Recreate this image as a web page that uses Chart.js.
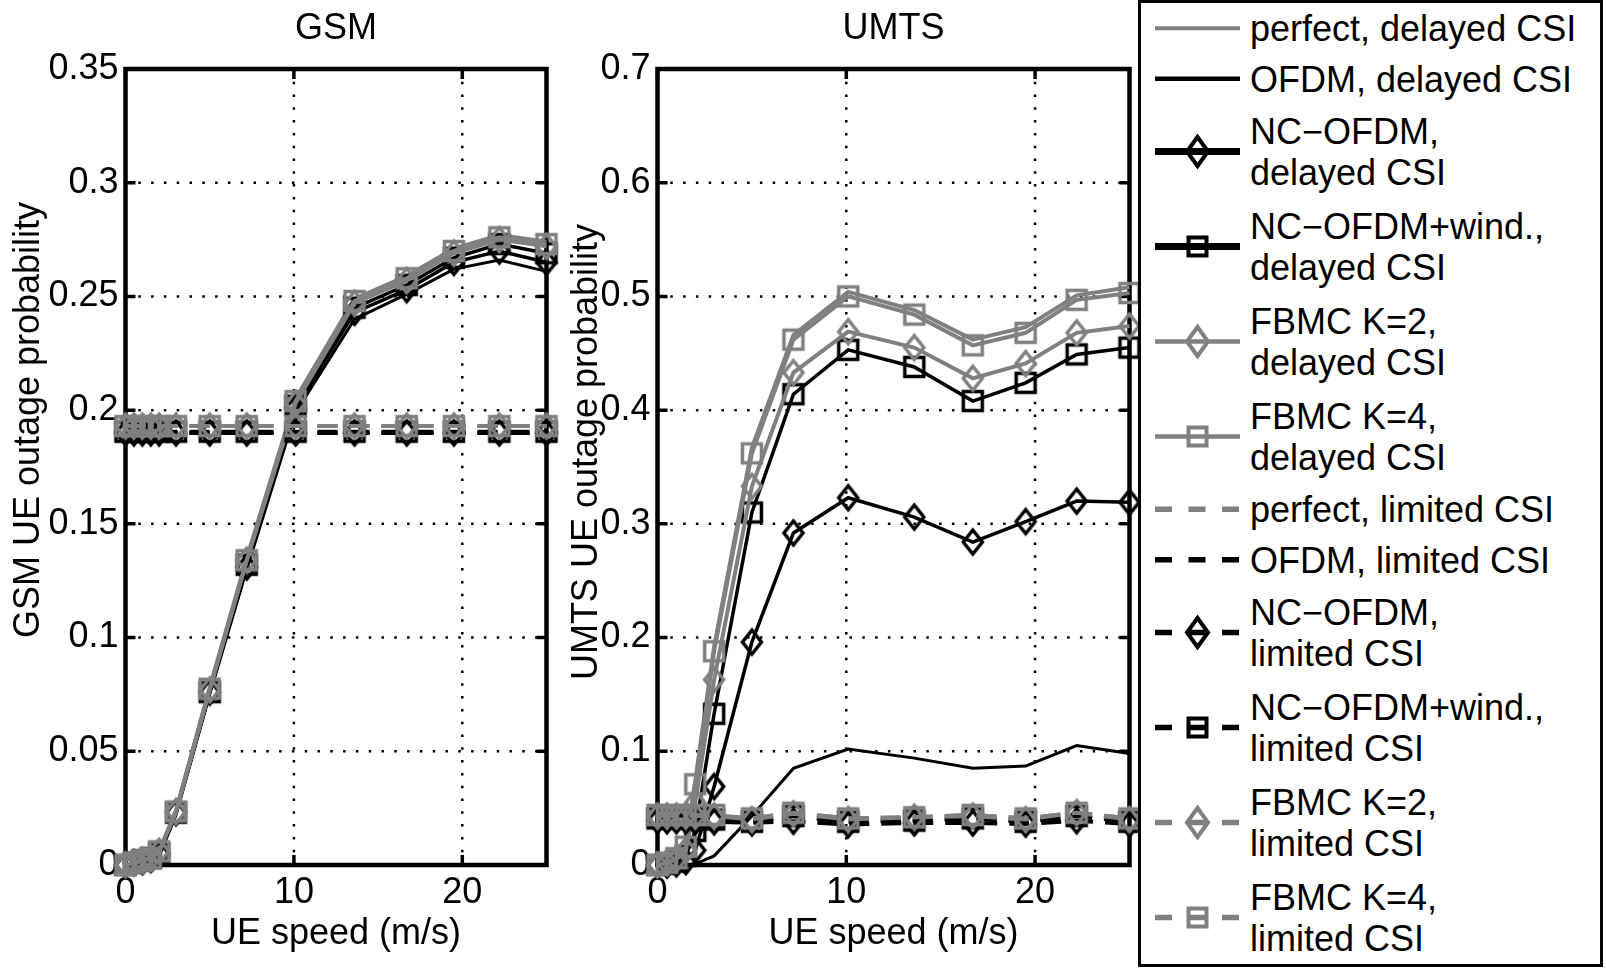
<!DOCTYPE html>
<html>
<head>
<meta charset="utf-8">
<title>GSM / UMTS UE outage probability</title>
<script src="https://cdn.jsdelivr.net/npm/chart.js@4.4.0/dist/chart.umd.min.js"></script>
<style>
  html, body { margin: 0; padding: 0; background: #fff; }
  #page { position: relative; width: 1606px; height: 969px; overflow: hidden; }
  canvas { position: absolute; top: 0; }
  #gsmChart { left: 0; }
  #umtsChart { left: 560px; }
  #overlay { position: absolute; left: 0; top: 0; font-family: "Liberation Sans", Arial, sans-serif; font-size: 36px; }
</style>
</head>
<body>
<div id="page">
  <canvas id="gsmChart" width="570" height="969"></canvas>
  <canvas id="umtsChart" width="600" height="969"></canvas>
  <svg id="overlay" width="1606" height="969" xmlns="http://www.w3.org/2000/svg">
    <text x="336" y="39" text-anchor="middle">GSM</text>
    <text x="893.5" y="39" text-anchor="middle">UMTS</text>
    <text transform="translate(38.5,420) rotate(-90)" text-anchor="middle">GSM UE outage probability</text>
    <text transform="translate(597,452) rotate(-90)" text-anchor="middle">UMTS UE outage probability</text>
    <g id="legend"></g>
  </svg>
</div>

<script>
/* data: UE speed (m/s) and outage probability per scheme */
const speeds = [0, 0.5, 1, 1.5, 2, 3, 5, 7.2, 10.1, 13.6, 16.7, 19.5, 22.2, 25];
const xTickValues = [0, 10, 20];
const gsmYTicks = [0, 0.05, 0.1, 0.15, 0.2, 0.25, 0.3, 0.35];
const umtsYTicks = [0, 0.1, 0.2, 0.3, 0.4, 0.5, 0.6, 0.7];

const legendLines = [
  ['perfect, delayed CSI'],
  ['OFDM, delayed CSI'],
  ['NC\u2212OFDM,', 'delayed CSI'],
  ['NC\u2212OFDM+wind.,', 'delayed CSI'],
  ['FBMC K=2,', 'delayed CSI'],
  ['FBMC K=4,', 'delayed CSI'],
  ['perfect, limited CSI'],
  ['OFDM, limited CSI'],
  ['NC\u2212OFDM,', 'limited CSI'],
  ['NC\u2212OFDM+wind.,', 'limited CSI'],
  ['FBMC K=2,', 'limited CSI'],
  ['FBMC K=4,', 'limited CSI']
];
const seriesNames = legendLines.map(l => l.join(' '));

// GSM
const gsmPerfectDelayed  = [0, 0.001, 0.002, 0.003, 0.006, 0.024, 0.078, 0.135, 0.205, 0.249, 0.259, 0.271, 0.277, 0.274];
const gsmOfdmDelayed     = [0, 0.0005, 0.001, 0.002, 0.004, 0.022, 0.075, 0.130, 0.199, 0.240, 0.251, 0.262, 0.266, 0.261];
const gsmNcDelayed       = [0, 0.001, 0.0015, 0.0025, 0.005, 0.023, 0.076, 0.131, 0.201, 0.243, 0.253, 0.265, 0.270, 0.265];
const gsmNcWindDelayed   = [0, 0.001, 0.002, 0.003, 0.005, 0.023, 0.076, 0.132, 0.202, 0.245, 0.255, 0.267, 0.273, 0.269];
const gsmFbmc2Delayed    = [0, 0.001, 0.002, 0.003, 0.006, 0.0235, 0.077, 0.134, 0.203, 0.247, 0.257, 0.269, 0.275, 0.272];
const gsmFbmc4Delayed    = [0, 0.001, 0.002, 0.003, 0.006, 0.0235, 0.0775, 0.134, 0.204, 0.248, 0.258, 0.270, 0.276, 0.273];
const gsmPerfectLimited  = [0.193, 0.193, 0.193, 0.193, 0.193, 0.193, 0.193, 0.193, 0.193, 0.193, 0.193, 0.193, 0.193, 0.193];
const gsmOfdmLimited     = [0.190, 0.190, 0.190, 0.190, 0.190, 0.190, 0.190, 0.190, 0.190, 0.190, 0.190, 0.190, 0.190, 0.190];
const gsmNcLimited       = [0.190, 0.190, 0.190, 0.190, 0.190, 0.190, 0.190, 0.190, 0.190, 0.190, 0.190, 0.190, 0.190, 0.190];
const gsmNcWindLimited   = [0.1905, 0.1905, 0.1905, 0.1905, 0.1905, 0.1905, 0.1905, 0.1905, 0.1905, 0.1905, 0.1905, 0.1905, 0.1905, 0.1905];
const gsmFbmc2Limited    = [0.193, 0.193, 0.193, 0.193, 0.193, 0.193, 0.193, 0.193, 0.193, 0.193, 0.193, 0.193, 0.193, 0.193];
const gsmFbmc4Limited    = [0.193, 0.193, 0.193, 0.193, 0.193, 0.193, 0.193, 0.193, 0.193, 0.193, 0.193, 0.193, 0.193, 0.193];

// UMTS
const umtsPerfectDelayed = [0, 0.002, 0.006, 0.017, 0.074, 0.192, 0.367, 0.466, 0.504, 0.488, 0.462, 0.473, 0.501, 0.508];
const umtsOfdmDelayed    = [0, 0, 0, 0, 0.001, 0.008, 0.043, 0.085, 0.102, 0.094, 0.085, 0.087, 0.105, 0.098];
const umtsNcDelayed      = [0, 0, 0.001, 0.003, 0.013, 0.069, 0.196, 0.292, 0.323, 0.306, 0.284, 0.302, 0.320, 0.319];
const umtsNcWindDelayed  = [0, 0.001, 0.003, 0.008, 0.030, 0.133, 0.310, 0.414, 0.453, 0.438, 0.408, 0.424, 0.449, 0.455];
const umtsFbmc2Delayed   = [0, 0.002, 0.005, 0.013, 0.055, 0.163, 0.333, 0.433, 0.469, 0.455, 0.428, 0.441, 0.468, 0.474];
const umtsFbmc4Delayed   = [0, 0.002, 0.006, 0.016, 0.071, 0.188, 0.362, 0.462, 0.500, 0.484, 0.457, 0.468, 0.497, 0.503];
const umtsPerfectLimited = [0.043, 0.043, 0.043, 0.043, 0.043, 0.043, 0.041, 0.046, 0.041, 0.042, 0.044, 0.041, 0.046, 0.041];
const umtsOfdmLimited    = [0.041, 0.041, 0.041, 0.041, 0.041, 0.040, 0.038, 0.043, 0.038, 0.039, 0.041, 0.038, 0.043, 0.038];
const umtsNcLimited      = [0.039, 0.039, 0.039, 0.039, 0.038, 0.038, 0.037, 0.0385, 0.0355, 0.037, 0.037, 0.036, 0.039, 0.036];
const umtsNcWindLimited  = [0.041, 0.041, 0.041, 0.041, 0.041, 0.040, 0.038, 0.043, 0.038, 0.039, 0.041, 0.038, 0.043, 0.038];
const umtsFbmc2Limited   = [0.043, 0.043, 0.043, 0.043, 0.043, 0.043, 0.040, 0.045, 0.040, 0.042, 0.043, 0.040, 0.046, 0.040];
const umtsFbmc4Limited   = [0.044, 0.044, 0.044, 0.044, 0.044, 0.044, 0.041, 0.046, 0.041, 0.042, 0.044, 0.041, 0.046, 0.041];

const gsmSeries = [gsmPerfectDelayed, gsmOfdmDelayed, gsmNcDelayed, gsmNcWindDelayed, gsmFbmc2Delayed, gsmFbmc4Delayed,
  gsmPerfectLimited, gsmOfdmLimited, gsmNcLimited, gsmNcWindLimited, gsmFbmc2Limited, gsmFbmc4Limited];
const umtsSeries = [umtsPerfectDelayed, umtsOfdmDelayed, umtsNcDelayed, umtsNcWindDelayed, umtsFbmc2Delayed, umtsFbmc4Delayed,
  umtsPerfectLimited, umtsOfdmLimited, umtsNcLimited, umtsNcWindLimited, umtsFbmc2Limited, umtsFbmc4Limited];

/* styles (matlab-like: gray / black, solid / dashed, open markers) */
const GRAY = '#808080';
const BLACK = '#000000';
const DASH = [20, 12];
const seriesStyles = [
  { color: GRAY,  dash: [],   marker: null,      width: 4,   legendWidth: 4 },
  { color: BLACK, dash: [],   marker: null,      width: 3,   legendWidth: 4.5 },
  { color: BLACK, dash: [],   marker: 'diamond', width: 3.5, legendWidth: 7 },
  { color: BLACK, dash: [],   marker: 'square',  width: 3.5, legendWidth: 7 },
  { color: GRAY,  dash: [],   marker: 'diamond', width: 4,   legendWidth: 4.5 },
  { color: GRAY,  dash: [],   marker: 'square',  width: 4,   legendWidth: 4.5 },
  { color: GRAY,  dash: DASH, marker: null,      width: 4,   legendWidth: 5.5 },
  { color: BLACK, dash: DASH, marker: null,      width: 4,   legendWidth: 5.5 },
  { color: BLACK, dash: DASH, marker: 'diamond', width: 4,   legendWidth: 5.5 },
  { color: BLACK, dash: DASH, marker: 'square',  width: 4,   legendWidth: 5.5 },
  { color: GRAY,  dash: DASH, marker: 'diamond', width: 4,   legendWidth: 5.5 },
  { color: GRAY,  dash: DASH, marker: 'square',  width: 4,   legendWidth: 5.5 }
];

Chart.defaults.font.family = '"Liberation Sans", Arial, sans-serif';
Chart.defaults.font.size = 36;
Chart.defaults.color = '#000';

// open marker bitmaps used as point styles
function markerImage(shape, color) {
  const c = document.createElement('canvas');
  c.width = 28; c.height = 32;
  const g = c.getContext('2d');
  g.strokeStyle = color;
  g.lineWidth = 3.5;
  g.beginPath();
  if (shape === 'diamond') {
    g.moveTo(14, 4); g.lineTo(23.5, 16); g.lineTo(14, 28); g.lineTo(4.5, 16); g.closePath();
  } else {
    g.rect(4.5, 6.5, 19, 19);
  }
  g.stroke();
  return c;
}
const markers = {};
['diamond', 'square'].forEach(s => [GRAY, BLACK].forEach(c => { markers[s + c] = markerImage(s, c); }));

// dotted grid, inward ticks and box, like matlab axes
const matlabAxes = {
  id: 'matlabAxes',
  beforeDatasetsDraw(chart) {
    const { ctx, chartArea: a, scales: { x, y } } = chart;
    ctx.save();
    ctx.strokeStyle = '#000';
    ctx.lineWidth = 2.5;
    ctx.setLineDash([2.5, 10.3]);
    ctx.beginPath();
    x.ticks.forEach(t => {
      const px = x.getPixelForValue(t.value);
      if (px > a.left + 3 && px < a.right - 3) { ctx.moveTo(px, a.bottom); ctx.lineTo(px, a.top); }
    });
    y.ticks.forEach(t => {
      const py = y.getPixelForValue(t.value);
      if (py > a.top + 3 && py < a.bottom - 3) { ctx.moveTo(a.left, py); ctx.lineTo(a.right, py); }
    });
    ctx.stroke();
    ctx.setLineDash([]);
    ctx.lineWidth = 3.5;
    ctx.beginPath();
    x.ticks.forEach(t => {
      const px = x.getPixelForValue(t.value);
      ctx.moveTo(px, a.bottom); ctx.lineTo(px, a.bottom - 10);
      ctx.moveTo(px, a.top); ctx.lineTo(px, a.top + 10);
    });
    y.ticks.forEach(t => {
      const py = y.getPixelForValue(t.value);
      ctx.moveTo(a.left, py); ctx.lineTo(a.left + 10, py);
      ctx.moveTo(a.right, py); ctx.lineTo(a.right - 10, py);
    });
    ctx.stroke();
    ctx.lineWidth = 4.5;
    ctx.strokeRect(a.left, a.top, a.right - a.left, a.bottom - a.top);
    ctx.restore();
  }
};

function buildDatasets(series) {
  return series.map((values, i) => {
    const st = seriesStyles[i];
    return {
      label: seriesNames[i],
      data: speeds.map((s, k) => ({ x: s, y: values[k] })),
      borderColor: st.color,
      backgroundColor: st.color,
      borderWidth: st.width,
      borderDash: st.dash,
      pointStyle: st.marker ? markers[st.marker + st.color] : 'circle',
      pointRadius: st.marker ? 12 : 0,
      tension: 0,
      fill: false,
      clip: false,
      order: -i
    };
  });
}

const fmt = v => String(Number(v.toFixed(2)));

function makeChart(id, series, yTicks, yMax, yAxisWidth, padRight) {
  return new Chart(document.getElementById(id), {
    type: 'line',
    data: { datasets: buildDatasets(series) },
    plugins: [matlabAxes],
    options: {
      responsive: false,
      animation: false,
      devicePixelRatio: 1,
      layout: { padding: { left: 0, top: 69, right: padRight, bottom: 0 } },
      plugins: { legend: { display: false }, tooltip: { enabled: false } },
      scales: {
        x: {
          type: 'linear', min: 0, max: 25,
          grid: { display: false, drawTicks: false },
          border: { display: false },
          afterBuildTicks: s => { s.ticks = xTickValues.map(v => ({ value: v })); },
          afterFit: s => { s.height = 104; },
          ticks: { padding: 6, autoSkip: false, maxRotation: 0, callback: fmt },
          title: { display: true, text: 'UE speed (m/s)', padding: { top: 0, bottom: 13 } }
        },
        y: {
          min: 0, max: yMax,
          grid: { display: false, drawTicks: false },
          border: { display: false },
          afterBuildTicks: s => { s.ticks = yTicks.map(v => ({ value: v })); },
          afterFit: s => { s.width = yAxisWidth; },
          ticks: { padding: 7, autoSkip: false, callback: fmt }
        }
      }
    }
  });
}

makeChart('gsmChart', gsmSeries, gsmYTicks, 0.35, 125.5, 23.5);
makeChart('umtsChart', umtsSeries, umtsYTicks, 0.7, 97.5, 30.5);

/* legend box, drawn as svg on top of the right-hand plot */
(function buildLegend() {
  const NS = 'http://www.w3.org/2000/svg';
  const g = document.getElementById('legend');
  const add = (tag, attrs) => {
    const el = document.createElementNS(NS, tag);
    Object.entries(attrs).forEach(([k, v]) => el.setAttribute(k, v));
    g.appendChild(el);
    return el;
  };
  add('rect', { x: 1139.5, y: 1.5, width: 462, height: 964, fill: '#fff', stroke: '#000', 'stroke-width': 3 });
  let yCursor = 3;
  legendLines.forEach((lines, i) => {
    const h = lines.length === 1 ? 50.5 : 95;
    const cy = yCursor + h / 2;
    yCursor += h;
    const st = seriesStyles[i];
    add('line', {
      x1: 1155, x2: 1240, y1: cy, y2: cy, stroke: st.color, 'stroke-width': st.legendWidth,
      'stroke-dasharray': st.dash.length ? '17 16.5' : 'none'
    });
    if (st.marker === 'diamond') {
      add('path', { d: `M1197.5 ${cy - 14.5} L1208 ${cy} L1197.5 ${cy + 14.5} L1187 ${cy} Z`, fill: 'none', stroke: st.color, 'stroke-width': 4 });
    } else if (st.marker === 'square') {
      add('rect', { x: 1188.5, y: cy - 9, width: 18, height: 18, fill: 'none', stroke: st.color, 'stroke-width': 4 });
    }
    lines.forEach((t, k) => {
      const tx = add('text', { x: 1250, y: cy + 12.9 + (k - (lines.length - 1) / 2) * 41.7 });
      tx.textContent = t;
    });
  });
})();
</script>
</body>
</html>
